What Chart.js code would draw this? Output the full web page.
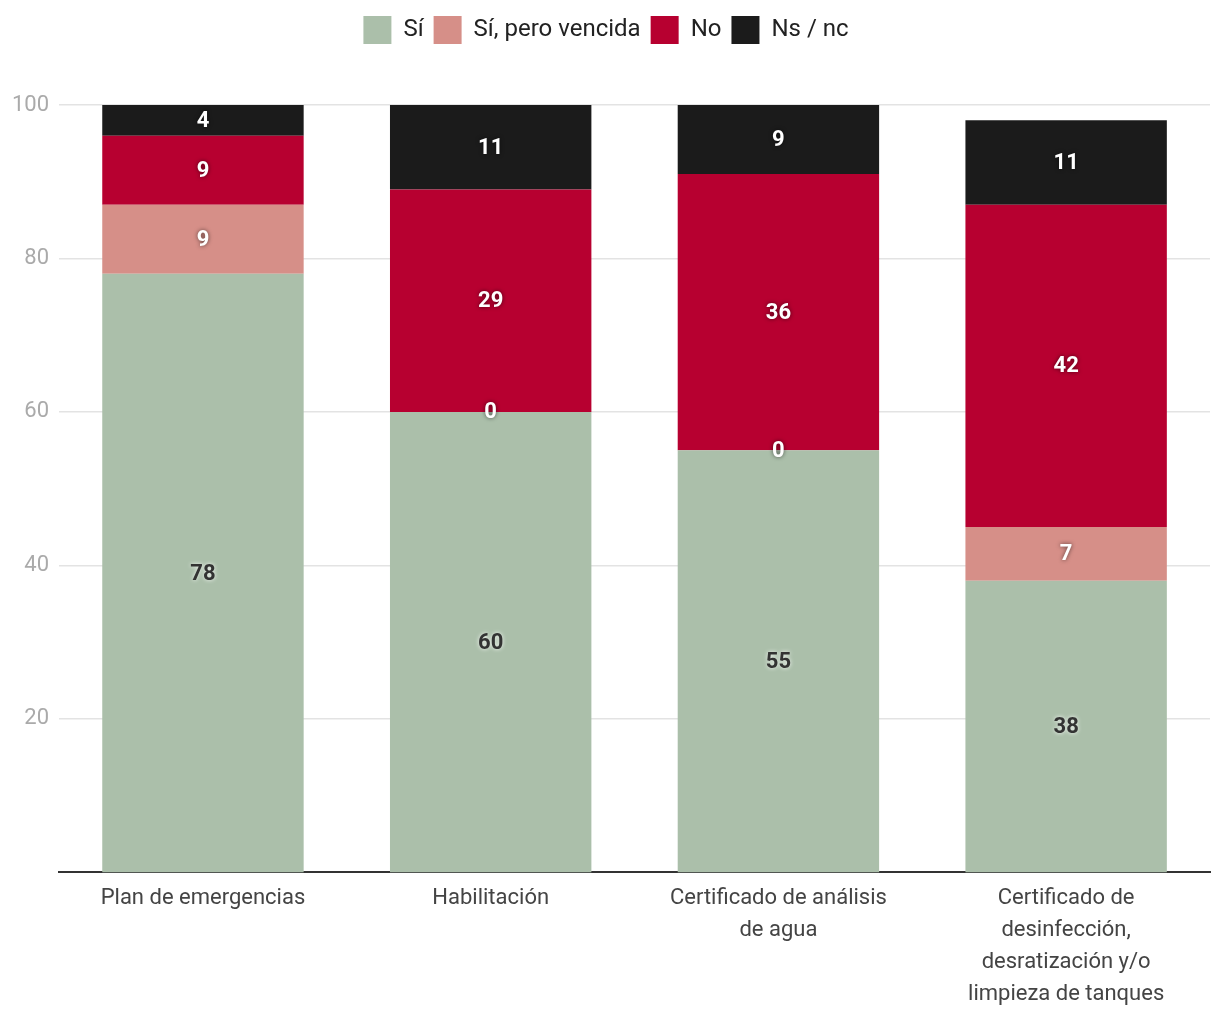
<!DOCTYPE html>
<html>
<head>
<meta charset="utf-8">
<script src="https://cdn.jsdelivr.net/npm/chart.js@4"></script>
<style>
  html, body { margin: 0; padding: 0; background: #fff; }
  #wrap { width: 1220px; height: 1020px; }
</style>
</head>
<body>
<div id="wrap"><canvas id="chart"></canvas></div>
<script>
const categories = [
    "Plan de emergencias",
    "Habilitación",
    ["Certificado de análisis", "de agua"],
    ["Certificado de", "desinfección,", "desratización y/o", "limpieza de tanques"]
];
const si = [78, 60, 55, 38];
const siVencida = [9, 0, 0, 7];
const no = [9, 29, 36, 42];
const nsnc = [4, 11, 9, 11];
const yTicks = [20, 40, 60, 80, 100];

const seriesNames = ["Sí", "Sí, pero vencida", "No", "Ns / nc"];
const seriesColors = ["#abbfaa", "#d68f88", "#b70030", "#1b1b1b"];
const labelDark = [true, false, false, false];

// draws the values inside each segment
const segmentLabels = {
    id: "segmentLabels",
    afterDatasetsDraw(chart) {
        const ctx = chart.ctx;
        ctx.save();
        ctx.font = "bold 22px Roboto";
        ctx.textAlign = "center";
        ctx.textBaseline = "middle";
        chart.data.datasets.forEach((ds, i) => {
            const meta = chart.getDatasetMeta(i);
            meta.data.forEach((bar, j) => {
                const v = ds.data[j];
                const y = (bar.y + bar.base) / 2;
                if (labelDark[i]) {
                    ctx.shadowColor = "rgba(255,255,255,0.9)";
                    ctx.fillStyle = "#333";
                } else {
                    ctx.shadowColor = "rgba(0,0,0,0.6)";
                    ctx.fillStyle = "#fff";
                }
                ctx.shadowBlur = 4;
                ctx.fillText(String(v), bar.x, y + 1);
            });
        });
        ctx.restore();
    }
};

// extra room under the legend
const legendGap = {
    id: "legendGap",
    beforeInit(chart) {
        const fit = chart.legend.fit;
        chart.legend.fit = function () {
            fit.bind(chart.legend)();
            this.height += 51;
        };
    }
};

new Chart(document.getElementById("chart"), {
    type: "bar",
    data: {
        labels: categories,
        datasets: [si, siVencida, no, nsnc].map((d, i) => ({
            label: seriesNames[i],
            data: d,
            backgroundColor: seriesColors[i],
            borderWidth: 0,
            categoryPercentage: 0.7,
            barPercentage: 1
        }))
    },
    options: {
        responsive: true,
        maintainAspectRatio: false,
        animation: false,
        layout: { padding: { left: 2, right: 10, top: 6, bottom: 8 } },
        plugins: {
            tooltip: { enabled: false },
            legend: {
                position: "top",
                labels: {
                    boxWidth: 28,
                    boxHeight: 28,
                    padding: 10,
                    color: "#222",
                    font: { family: "Roboto", size: 24 }
                }
            }
        },
        scales: {
            x: {
                stacked: true,
                grid: { display: false },
                border: { color: "#333", width: 2 },
                ticks: {
                    color: "#444",
                    padding: 2,
                    maxRotation: 0,
                    font: { family: "Roboto", size: 22, lineHeight: 1.45 }
                }
            },
            y: {
                stacked: true,
                min: 0,
                max: 100,
                border: { display: false },
                grid: { color: "#e3e3e3", lineWidth: 1.5, drawTicks: false },
                afterBuildTicks(axis) {
                    axis.ticks = yTicks.map(v => ({ value: v }));
                },
                ticks: {
                    color: "#aaa",
                    padding: 10,
                    font: { family: "Roboto", size: 22 }
                }
            }
        }
    },
    plugins: [segmentLabels, legendGap]
});
</script>
</body>
</html>
